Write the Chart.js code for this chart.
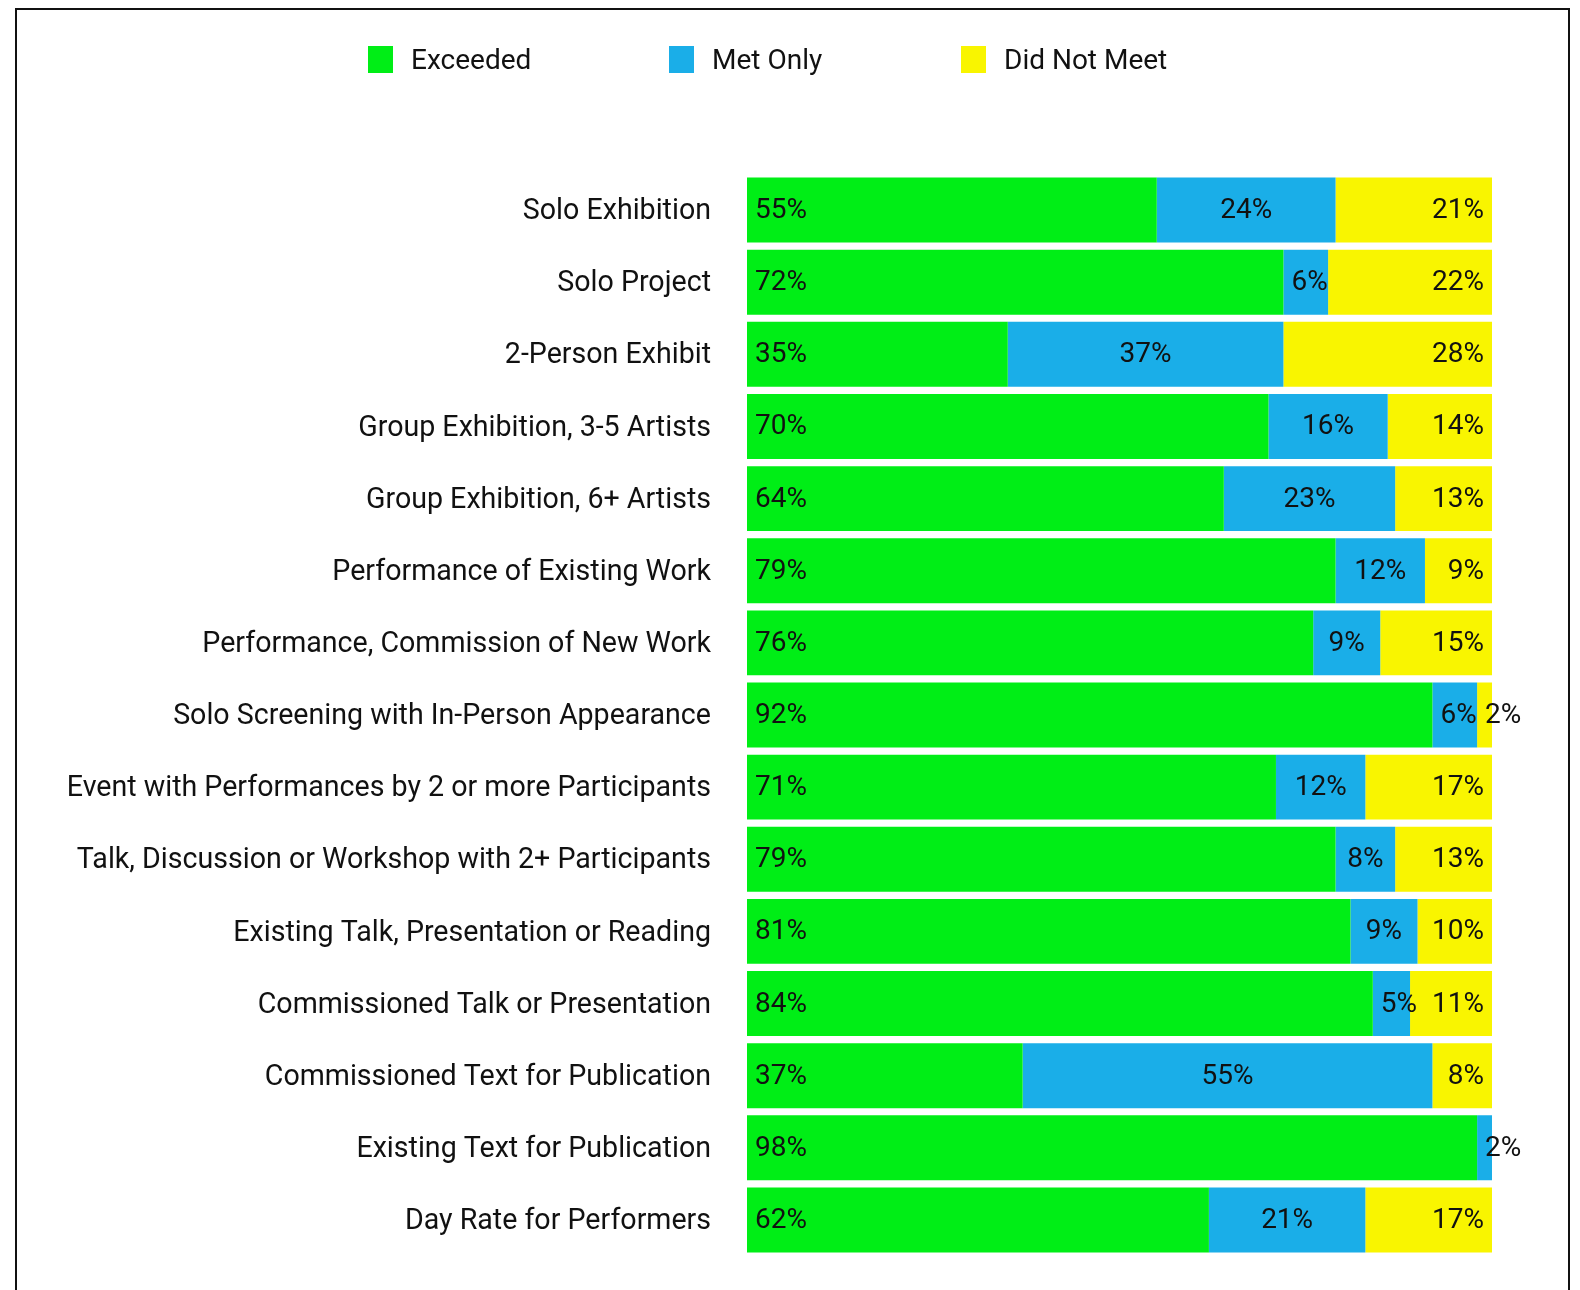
<!DOCTYPE html>
<html>
<head>
<meta charset="utf-8">
<script src="https://cdn.jsdelivr.net/npm/chart.js@4"></script>
<style>
  html, body { margin: 0; padding: 0; background: #fff; width: 1580px; height: 1290px; overflow: hidden; }
  #frame { position: absolute; left: 15px; top: 8px; width: 1555px; height: 1300px; border: 2px solid #111; border-bottom: none; box-sizing: border-box; }
  #wrap { position: absolute; left: 0; top: 0; width: 1580px; height: 1290px; }
  #c { display: block; }
  .leg { position: absolute; top: 46px; height: 27px; display: flex; align-items: center; font-family: Roboto, sans-serif; font-size: 28px; color: #111; white-space: nowrap; }
  .leg .box { width: 25px; height: 27px; margin-right: 18px; }
</style>
</head>
<body>
<div id="frame"></div>
<div id="wrap"><canvas id="c" width="1580" height="1290"></canvas></div>
<div id="legend"></div>
<script>
const categories = [
  "Solo Exhibition",
  "Solo Project",
  "2-Person Exhibit",
  "Group Exhibition, 3-5 Artists",
  "Group Exhibition, 6+ Artists",
  "Performance of Existing Work",
  "Performance, Commission of New Work",
  "Solo Screening with In-Person Appearance",
  "Event with Performances by 2 or more Participants",
  "Talk, Discussion or Workshop with 2+ Participants",
  "Existing Talk, Presentation or Reading",
  "Commissioned Talk or Presentation",
  "Commissioned Text for Publication",
  "Existing Text for Publication",
  "Day Rate for Performers"
];
const seriesNames = ["Exceeded", "Met Only", "Did Not Meet"];
const exceeded   = [55, 72, 35, 70, 64, 79, 76, 92, 71, 79, 81, 84, 37, 98, 62];
const metOnly    = [24,  6, 37, 16, 23, 12,  9,  6, 12,  8,  9,  5, 55,  2, 21];
const didNotMeet = [21, 22, 28, 14, 13,  9, 15,  2, 17, 13, 10, 11,  8,  0, 17];
const colors = ["#00EE16", "#1AAEE8", "#F9F500"];

const legendLeft = [368, 669, 961];
const legendEl = document.getElementById('legend');
seriesNames.forEach((n, i) => {
  const d = document.createElement('div');
  d.className = 'leg';
  d.style.left = legendLeft[i] + 'px';
  d.innerHTML = '<span class="box" style="background:' + colors[i] + '"></span><span>' + n + '</span>';
  legendEl.appendChild(d);
});

const labelPlugin = {
  id: 'segLabels',
  afterDatasetsDraw(chart) {
    const ctx = chart.ctx;
    ctx.save();
    ctx.font = '28px Roboto, sans-serif';
    ctx.fillStyle = '#111';
    ctx.textBaseline = 'middle';
    chart.data.datasets.forEach((ds, di) => {
      const meta = chart.getDatasetMeta(di);
      meta.data.forEach((el, i) => {
        const v = ds.data[i];
        if (!v) return;
        const txt = v + '%';
        const left = Math.min(el.x, el.base);
        const right = Math.max(el.x, el.base);
        const w = right - left;
        const tw = ctx.measureText(txt).width;
        const pad = 8;
        let x, align;
        if (tw + 2 * pad > w) { x = left + pad; align = 'left'; }
        else if (di === 0) { x = left + pad; align = 'left'; }
        else if (di === 2) { x = right - pad; align = 'right'; }
        else { x = (left + right) / 2; align = 'center'; }
        ctx.textAlign = align;
        ctx.fillText(txt, x, el.y + 1);
      });
    });
    ctx.restore();
  }
};

new Chart(document.getElementById('c'), {
  type: 'bar',
  data: {
    labels: categories,
    datasets: [
      { label: seriesNames[0], data: exceeded,   backgroundColor: colors[0] },
      { label: seriesNames[1], data: metOnly,    backgroundColor: colors[1] },
      { label: seriesNames[2], data: didNotMeet, backgroundColor: colors[2] }
    ]
  },
  options: {
    indexAxis: 'y',
    responsive: false,
    animation: false,
    layout: { padding: { left: 20, right: 88, top: 174, bottom: 34 } },
    datasets: { bar: { barPercentage: 0.9, categoryPercentage: 1.0, borderWidth: 0 } },
    plugins: { legend: { display: false }, tooltip: { enabled: false } },
    scales: {
      x: { stacked: true, min: 0, max: 100, display: false },
      y: {
        stacked: true,
        grid: { display: false, drawTicks: false },
        border: { display: false },
        ticks: { color: '#111', padding: 36, labelOffset: 2, font: { family: 'Roboto, sans-serif', size: 28.6 } },
        afterFit(scale) { scale.width = 727; scale.paddingTop = 0; scale.paddingBottom = 0; }
      }
    }
  },
  plugins: [labelPlugin]
});
</script>
</body>
</html>
